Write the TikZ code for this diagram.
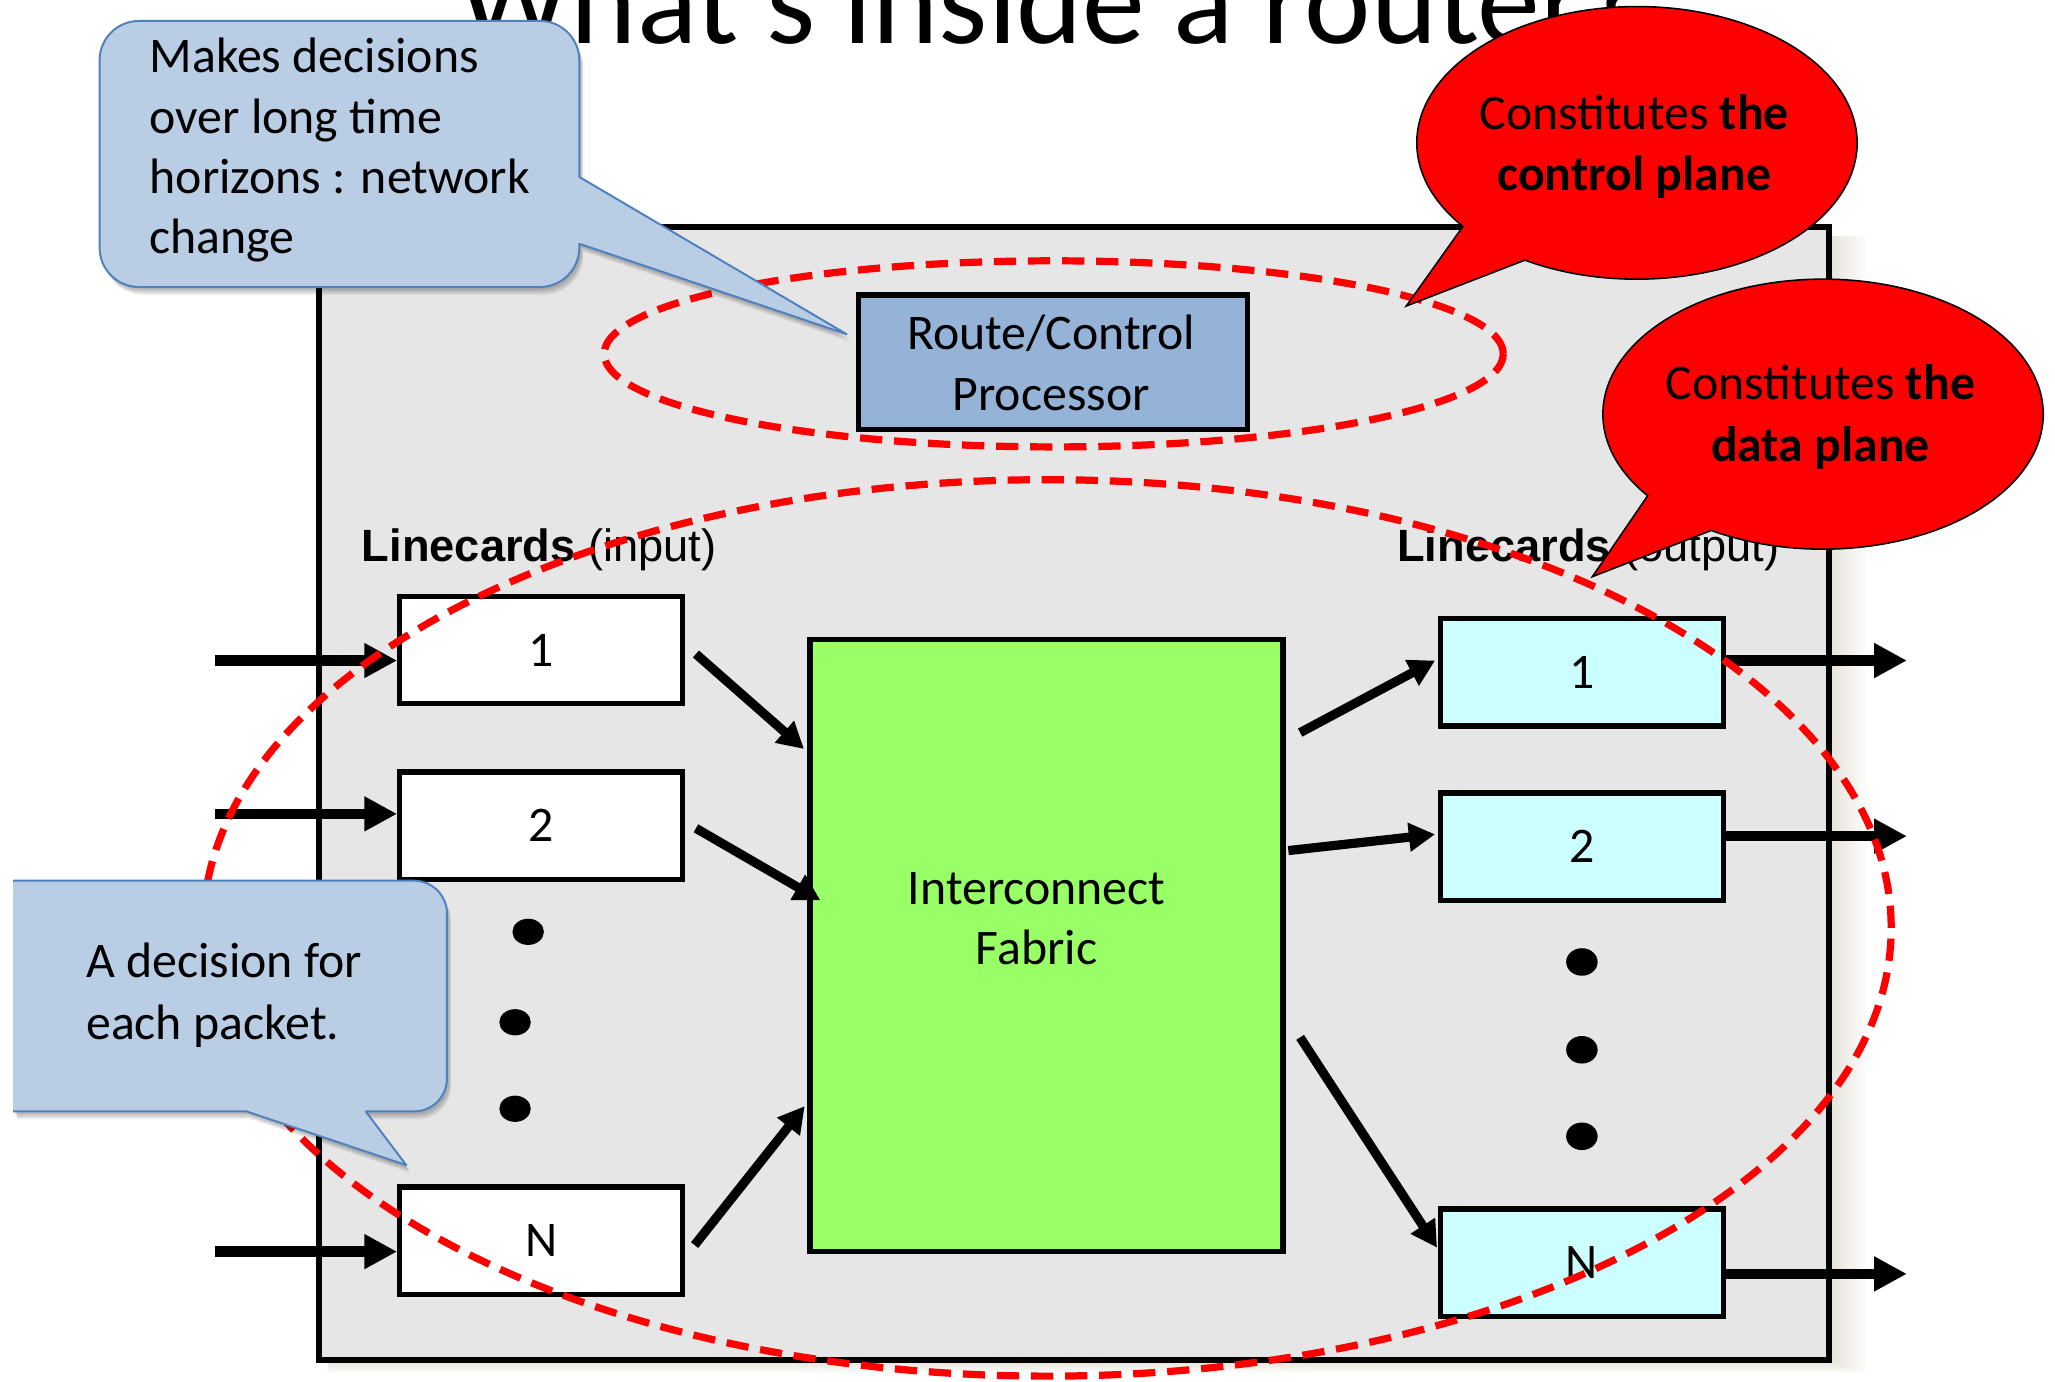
\documentclass[tikz,border=0pt]{standalone}
\usepackage{fontspec}
\setmainfont{Carlito}
\newfontfamily\arialfont{Liberation Sans}
\usetikzlibrary{arrows.meta,calc}
\definecolor{boxgray}{HTML}{E6E6E6}
\definecolor{callfill}{HTML}{B9CDE5}
\definecolor{callline}{HTML}{4F81BD}
\definecolor{routeblue}{HTML}{95B3D7}
\definecolor{fabgreen}{HTML}{99FF66}
\definecolor{outcyan}{HTML}{CCFFFF}
\definecolor{planered}{HTML}{FF0000}
\definecolor{glowc}{RGB}{200,195,170}
\newcommand{\mlines}[2]{\begin{tabular}[t]{@{}#1@{}}#2\end{tabular}}
\newcommand{\calloutApath}{(106,-16) -- (412,-16) arc[start angle=90,end angle=0,radius=30pt] -- (442,-135) -- (646,-255) -- (442,-186) -- (442,-189) arc[start angle=0,end angle=-90,radius=30pt] -- (106,-219) arc[start angle=270,end angle=180,radius=30pt] -- (76,-46) arc[start angle=180,end angle=90,radius=30pt] -- cycle}
\newcommand{\calloutBpath}{(10,-672) -- (316,-672) arc[start angle=90,end angle=0,radius=25pt] -- (341,-823) arc[start angle=0,end angle=-90,radius=25pt] -- (279,-848) -- (310,-889) -- (188,-848) -- (10,-848) -- cycle}
\begin{document}
\begin{tikzpicture}[x=1pt,y=1pt,
  card/.style={draw=black, line width=4pt, minimum width=216pt, minimum height=82pt, inner sep=0pt, font=\fontsize{38}{46}\selectfont},
  incard/.style={card, fill=white},
  outcard/.style={card, fill=outcyan},
  bigarrow/.style={line width=8pt, -{Triangle[length=25pt,width=25pt]}},
  midarrow/.style={line width=7pt, -{Triangle[length=20pt,width=21pt]}},
  planeoval/.style={draw=planered, line width=5.5pt, dash pattern=on 17pt off 9pt},
  bubble/.style={fill=planered, draw=black, line width=1.2pt},
  callout/.style={fill=callfill},
  calloutline/.style={draw=callline, line width=1.5pt, line join=round},
  dotmark/.style={fill=black},
  txt/.style={inner sep=0pt, font=\fontsize{38}{46}\selectfont},
  lclabel/.style={inner sep=0pt, anchor=base west, font=\arialfont\fontsize{34.5}{40}\selectfont},
]
\useasboundingbox (0,0) rectangle (1568,-1054);
\fill[white] (0,0) rectangle (1568,-1054);

% title
\node[anchor=base west, inner sep=0pt, font=\fontsize{96}{110}\selectfont] (title) at (350,-33) {What’s inside a router?};

% glow of the router box
\foreach \i in {1,...,8} {
  \fill[glowc, opacity=0.06] (250,-180) rectangle (1395.5+\i*3.5, -1038-\i*1.2);
}
% router box
\node[draw=black, line width=4.5pt, fill=boxgray, minimum width=1152pt, minimum height=865pt, inner sep=0pt] (router) at (819.5,-605.5) {};

% route / control processor
\node[draw=black, line width=4pt, fill=routeblue, minimum width=297pt, minimum height=103pt, inner sep=0pt] (rcp) at (803.5,-276.5) {};
\node[txt, anchor=base] (rcptext) at (802,-267) {\mlines{c}{Route/Control\\Processor}};

% labels
\node[lclabel] (inlabel) at (276,-428.6) {\textbf{Linecards} (input)};
\node[lclabel] (outlabel) at (1066,-428.6) {\textbf{Linecards} (output)};

% input linecards
\node[incard] (in1) at (413,-496) {1};
\node[incard] (in2) at (413,-630) {2};
\node[incard] (inN) at (413,-946.6) {N};

% fabric
\node[draw=black, line width=4pt, fill=fabgreen, minimum width=361pt, minimum height=467pt, inner sep=0pt] (fab) at (798.5,-721.5) {};
\node[txt, anchor=base] (fabtext) at (791,-690) {\mlines{c}{Interconnect\\Fabric}};

% output linecards
\node[outcard] (out1) at (1207,-513) {1};
\node[outcard] (out2) at (1207,-646) {2};
\node[outcard] (outN) at (1207,-963.5) {N};

% dots
\fill[dotmark] (403,-711) ellipse [x radius=12pt, y radius=10pt];
\fill[dotmark] (393,-780) ellipse [x radius=12pt, y radius=10pt];
\fill[dotmark] (393,-846) ellipse [x radius=12pt, y radius=10pt];
\fill[dotmark] (1207,-734) ellipse [x radius=12pt, y radius=10.5pt];
\fill[dotmark] (1207,-801) ellipse [x radius=12pt, y radius=10.5pt];
\fill[dotmark] (1207,-867) ellipse [x radius=12pt, y radius=10.5pt];

% input arrows
\coordinate (s1) at (164,-504);
\coordinate (s2) at (164,-621);
\coordinate (sN) at (164,-955);
\draw[bigarrow] (s1) -- (s1 -| in1.west);
\draw[bigarrow] (s2) -- (s2 -| in2.west);
\draw[bigarrow] (sN) -- (sN -| inN.west);

% output arrows
\coordinate (e1) at (1455,-504);
\coordinate (e2) at (1455,-638);
\coordinate (eN) at (1455,-972);
\draw[bigarrow] (e1 -| out1.east) -- (e1);
\draw[bigarrow] (e2 -| out2.east) -- (e2);
\draw[bigarrow] (eN -| outN.east) -- (eN);

% linecards -> fabric
\coordinate (a1s) at ([shift={(8,-3)}]in1.east);
\coordinate (a2s) at ([shift={(8,-2)}]in2.east);
\coordinate (aNs) at ([shift={(7,-3.4)}]inN.east);
\coordinate (a1e) at ([shift={(-2.5,-85.5)}]fab.north west);
\coordinate (a2e) at ([shift={(10,-201)}]fab.north west);
\coordinate (aNe) at ([shift={(-2,-358)}]fab.north west);
\draw[midarrow] (a1s) -- (a1e);
\draw[midarrow] (a2s) -- (a2e);
\draw[midarrow] (aNs) -- (aNe);

% fabric -> output linecards
\coordinate (b1s) at ([shift={(11,-73)}]fab.north east);
\coordinate (b2s) at ([shift={(2,-163)}]fab.north east);
\coordinate (bNs) at ([shift={(11,-305.5)}]fab.north east);
\coordinate (b1e) at ([shift={(-2,9)}]out1.west);
\coordinate (b2e) at ([shift={(-2,9.4)}]out2.west);
\coordinate (bNe) at ([shift={(-0.5,11.5)}]outN.west);
\draw[midarrow] (b1s) -- (b1e);
\draw[midarrow] (b2s) -- (b2e);
\draw[midarrow] (bNs) -- (bNe);

% dashed plane ovals
\draw[planeoval] (804,-270) ellipse [x radius=343pt, y radius=71pt];
\draw[planeoval] (799,-708) ellipse [x radius=644pt, y radius=342pt];

% red bubbles
\coordinate (cb1) at (1249,-109);
\coordinate (tip1) at (1073,-233.5);
\path[bubble] ([shift={(239.4:168pt and 104pt)}]cb1) arc[start angle=239.4, end angle=577.8, x radius=168pt, y radius=104pt] -- (tip1) -- cycle;
\node[txt, anchor=base] (b1text) at (1247,-99) {\mlines{c}{Constitutes \textbf{the}\\\textbf{control plane}}};

\coordinate (cb2) at (1391,-316);
\coordinate (tip2) at (1215,-440);
\path[bubble] ([shift={(239.5:168pt and 103pt)}]cb2) arc[start angle=239.5, end angle=577.2, x radius=168pt, y radius=103pt] -- (tip2) -- cycle;
\node[txt, anchor=base, font=\fontsize{38}{47}\selectfont] (b2text) at (1389,-305) {\mlines{c}{Constitutes \textbf{the}\\\textbf{data plane}}};

% blue callout 1
\foreach \dx/\dy in {1/-2,2/-3,2/-4,3/-5,3/-6} {
  \fill[black, opacity=0.06, shift={(\dx,\dy)}] \calloutApath;
}
\path[callout] \calloutApath;
\path[calloutline] \calloutApath;
\node[txt, anchor=base west] (c1text) at (114,-55.5) {\mlines{l}{Makes decisions\\over long time\\horizons : network\\change}};

% blue callout 2
\foreach \dx/\dy in {1/-2,2/-3,2/-4,3/-5,3/-6} {
  \fill[black, opacity=0.06, shift={(\dx,\dy)}] \calloutBpath;
}
\path[callout] \calloutBpath;
\draw[calloutline] (10,-672) -- (316,-672) arc[start angle=90,end angle=0,radius=25pt] -- (341,-823) arc[start angle=0,end angle=-90,radius=25pt] -- (279,-848) -- (310,-889) -- (188,-848) -- (10,-848);
\node[txt, anchor=base west, font=\fontsize{38}{47.5}\selectfont] (c2text) at (65.6,-746) {\mlines{l}{A decision for\\each packet.}};
\end{tikzpicture}
\end{document}
